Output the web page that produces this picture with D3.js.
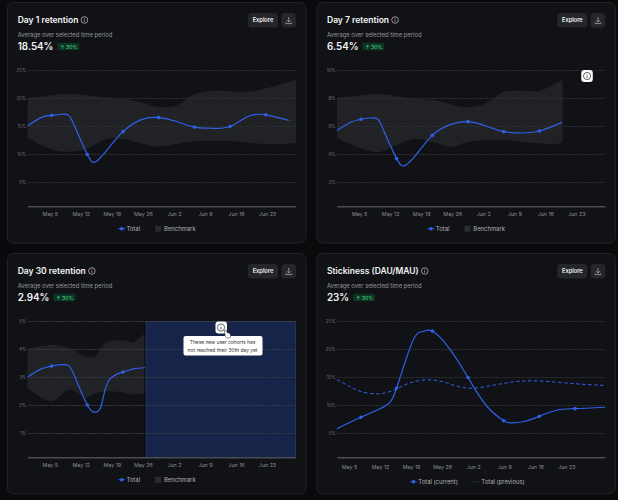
<!DOCTYPE html>
<html>
<head>
<meta charset="utf-8">
<script src="https://cdn.jsdelivr.net/npm/d3@7"></script>
<style>
html, body { margin: 0; padding: 0; background: #0a0a0c; overflow: hidden; }
text { font-family: Inter, "Noto Sans", sans-serif; }
</style>
</head>
<body>
<svg id="chart" width="618" height="500"></svg>
<script>
// tick labels
const weekLabels = ["May 5", "May 12", "May 19", "May 26", "Jun 2", "Jun 9", "Jun 16", "Jun 23"];

// x values are in weeks, 0 = first marker
const day1Weeks = [-0.67, -0.3, 0, 0.25, 0.47, 0.65, 1, 1.23, 1.55, 2, 2.5, 3, 3.5, 4, 4.5, 5, 5.5, 6, 6.64];
const day1Total = [15, 16.5, 16.9, 17.1, 16.95, 14.9, 9.9, 8.6, 10.7, 14, 16.1, 16.5, 15.8, 14.8, 14.6, 14.9, 16.7, 17, 16];
const day1BandWeeks = [-0.67, 0, 0.5, 1, 1.5, 2, 2.5, 3, 3.5, 4, 4.5, 5, 5.5, 6, 6.5, 6.85];
const day1Upper = [20, 20.5, 20.7, 20.5, 20.1, 19.8, 19.3, 18.4, 18.7, 20.7, 21.3, 21.2, 21.1, 21.7, 22.6, 23.2];
const day1Lower = [12.9, 10.8, 10.4, 11, 12.6, 12.7, 11.9, 11.3, 11.8, 12.3, 12.3, 12.3, 12, 11.8, 11.8, 12];

const day7Weeks = [-0.67, -0.3, 0, 0.25, 0.47, 0.65, 1, 1.23, 1.55, 2, 2.5, 3, 3.5, 4, 4.5, 5, 5.63];
const day7Total = [5.67, 6.25, 6.48, 6.57, 6.5, 5.6, 3.67, 3.17, 3.95, 5.33, 6.1, 6.31, 6, 5.6, 5.5, 5.64, 6.26];
const day7BandWeeks = [-0.67, 0, 0.5, 1, 1.5, 2, 2.5, 3, 3.5, 4, 4.5, 5, 5.33, 5.65];
const day7Upper = [8, 8.2, 8.3, 8.14, 7.95, 7.86, 7.57, 7.33, 7.62, 8.43, 8.52, 8.5, 8.88, 9.29];
const day7Lower = [5.14, 4.4, 4.14, 4.64, 5.07, 4.88, 4.52, 4.88, 5, 5, 4.88, 4.76, 4.71, 4.81];

const day30Weeks = [-0.67, -0.3, 0, 0.25, 0.47, 0.65, 1, 1.23, 1.4, 1.59, 2, 2.3, 2.62];
const day30Total = [3, 3.28, 3.39, 3.44, 3.41, 3.02, 2, 1.74, 2.01, 2.85, 3.18, 3.29, 3.33];
const day30BandWeeks = [-0.67, 0, 0.5, 1, 1.2, 1.5, 2, 2.3, 2.65];
const day30Upper = [4, 4.15, 4.04, 3.71, 3.71, 4.21, 4.31, 4.24, 4.63];
const day30Lower = [2.61, 2.13, 2.55, 2.27, 2.4, 2.49, 2.45, 2.37, 2.4];

const stickyWeeks = [-0.67, 0, 0.67, 1, 1.45, 1.73, 2, 2.5, 3, 3.5, 4, 4.25, 4.6, 5, 5.5, 6, 6.84];
const stickyTotal = [5.77, 7.8, 9.76, 13.04, 21.37, 23.1, 23.2, 19.9, 14.9, 10, 7.2, 6.8, 7.1, 8, 9.1, 9.35, 9.6];
const stickyPrevWeeks = [-0.67, -0.31, 0, 0.53, 1, 1.4, 1.9, 2.43, 3.08, 4.03, 4.95, 6, 6.84];
const stickyPrev = [14.5, 13.3, 12.4, 12, 12.9, 14, 14.5, 13.9, 13, 13.9, 14.3, 13.8, 13.5];

const panels = [
    { x: 0, y: 0, title: "Day 1 retention", value: "18.54%", yMax: 25, yTicks: [5, 10, 15, 20, 25],
      weeks: day1Weeks, total: day1Total, bandWeeks: day1BandWeeks, upper: day1Upper, lower: day1Lower },
    { x: 309.3, y: 0, title: "Day 7 retention", value: "6.54%", yMax: 10, yTicks: [2, 4, 6, 8, 10],
      weeks: day7Weeks, total: day7Total, bandWeeks: day7BandWeeks, upper: day7Upper, lower: day7Lower },
    { x: 0, y: 251, title: "Day 30 retention", value: "2.94%", yMax: 5, yTicks: [1, 2, 3, 4, 5],
      weeks: day30Weeks, total: day30Total, bandWeeks: day30BandWeeks, upper: day30Upper, lower: day30Lower },
    { x: 309.3, y: 251, title: "Stickiness (DAU/MAU)", value: "23%", yMax: 25, yTicks: [5, 10, 15, 20, 25],
      weeks: stickyWeeks, total: stickyTotal, prevWeeks: stickyPrevWeeks, prev: stickyPrev }
];

const BLUE = "#2f60ea";
const svg = d3.select("#chart");

const xWeek = d3.scaleLinear().domain([0, 6]).range([51.6, 265.8]);
const bandCurve = d3.curveCatmullRom.alpha(0.5);

function infoIcon(g, cx, cy, r, color) {
    g.append("circle").attr("cx", cx).attr("cy", cy).attr("r", r)
        .attr("fill", "none").attr("stroke", color).attr("stroke-width", 0.7);
    g.append("line").attr("x1", cx).attr("x2", cx).attr("y1", cy - r * 0.1).attr("y2", cy + r * 0.5)
        .attr("stroke", color).attr("stroke-width", 0.8);
    g.append("circle").attr("cx", cx).attr("cy", cy - r * 0.45).attr("r", 0.45).attr("fill", color);
}

function drawPanel(p, i) {
    const g = svg.append("g").attr("transform", `translate(${p.x},${p.y})`);
    const sticky = !!p.prev;

    g.append("rect").attr("x", 7.5).attr("y", 2.5).attr("width", 298.5).attr("height", 240.5).attr("rx", 6)
        .attr("fill", "#111216").attr("stroke", "#222327").attr("stroke-width", 1);

    // header
    const title = g.append("text").attr("x", 17.7).attr("y", 23.2).text(p.title)
        .attr("fill", "#f5f5f6").attr("font-size", 8.5).attr("font-weight", 600);
    const titleW = title.node().getComputedTextLength();
    infoIcon(g, 17.7 + titleW + 6, 20, 3.3, "#c9cacd");

    g.append("text").attr("x", 17.7).attr("y", 37.2).text("Average over selected time period")
        .attr("fill", "#96979c").attr("font-size", 5.85);
    const val = g.append("text").attr("x", 17.7).attr("y", 50).text(p.value)
        .attr("fill", "#f5f5f6").attr("font-size", 9.8).attr("font-weight", 600);
    const valW = val.node().getComputedTextLength();
    const badgeX = 17.7 + valW + 3.8;
    g.append("rect").attr("x", badgeX).attr("y", 42.8).attr("width", 22).attr("height", 7.5).attr("rx", 1)
        .attr("fill", "#0b3522");
    g.append("text").attr("x", badgeX + 3).attr("y", 48.6).text("↑ 30%")
        .attr("fill", "#56d68e").attr("font-size", 5.2);

    // buttons
    g.append("rect").attr("x", 248).attr("y", 13).attr("width", 30).attr("height", 14.5).attr("rx", 3.5).attr("fill", "#25262b");
    g.append("text").attr("x", 263).attr("y", 22.2).attr("text-anchor", "middle").text("Explore")
        .attr("fill", "#f0f0f2").attr("font-size", 5.7).attr("font-weight", 600);
    g.append("rect").attr("x", 281.3).attr("y", 13).attr("width", 14.7).attr("height", 14.5).attr("rx", 3.5).attr("fill", "#25262b");
    g.append("path").attr("d", "M288.7 17v5M286.8 20.2l1.9 1.9 1.9-1.9M285.8 22.4v1.2h5.8v-1.2")
        .attr("fill", "none").attr("stroke", "#b5b6ba").attr("stroke-width", 0.7);

    const y = d3.scaleLinear().domain([0, p.yMax]).range([210, 70]);
    const xLabels = d3.scalePoint().domain(weekLabels).range(sticky ? [39.7, 257] : [49.8, 267]);

    // benchmark band
    if (p.upper) {
        const rows = p.bandWeeks.map((w, k) => ({ w, hi: p.upper[k], lo: p.lower[k] }));
        g.append("path").datum(rows)
            .attr("d", d3.area().x(d => xWeek(d.w)).y0(d => y(d.lo)).y1(d => y(d.hi)).curve(bandCurve))
            .attr("fill", "#212226");
    }

    // not reached yet region, day 30 only
    if (i === 2) {
        g.append("rect").attr("x", 144.5).attr("y", 70).attr("width", 1.5).attr("height", 137).attr("fill", "#050506");
        g.append("rect").attr("x", 146).attr("y", 70.5).attr("width", 149.7).attr("height", 136)
            .attr("fill", "#16244a").attr("stroke", "#2c3d6c").attr("stroke-width", 0.8);
    }

    // grid + y labels
    const yAxis = g.append("g").attr("transform", "translate(28,0)")
        .call(d3.axisLeft(y).tickValues(p.yTicks).tickFormat(d => d + "%").tickSize(-268).tickPadding(1.8));
    yAxis.select(".domain").remove();
    yAxis.selectAll("line").attr("stroke", i === 2 ? "#3a3c44" : "#303135").attr("stroke-dasharray", "1.5 0.8");
    yAxis.selectAll("text").attr("fill", "#77787d").attr("font-size", 4.4).attr("font-family", "Inter");

    // x axis
    const xAxis = g.append("g").attr("transform", "translate(0,206.5)")
        .call(d3.axisBottom(xLabels).tickSize(0).tickPadding(sticky ? 7.3 : 5.8));
    xAxis.select(".domain").remove();
    xAxis.selectAll("text").attr("fill", "#8f9095").attr("font-size", 5.3).attr("font-family", "Inter");
    g.append("line").attr("x1", 28).attr("x2", 296).attr("y1", 206.7).attr("y2", 206.7)
        .attr("stroke", "#4c4d52").attr("stroke-width", 1.6);

    // previous period
    if (sticky) {
        g.append("path").datum(p.prevWeeks.map((w, k) => ({ w, v: p.prev[k] })))
            .attr("d", d3.line().x(d => xWeek(d.w)).y(d => y(d.v)).curve(d3.curveNatural))
            .attr("fill", "none").attr("stroke", BLUE).attr("stroke-width", 1).attr("stroke-dasharray", "3.5 2.5");
    }

    // total
    const rows = p.weeks.map((w, k) => ({ w, v: p.total[k] }));
    g.append("path").datum(rows)
        .attr("d", d3.line().x(d => xWeek(d.w)).y(d => y(d.v)).curve(d3.curveNatural))
        .attr("fill", "none").attr("stroke", BLUE).attr("stroke-width", 1.2);
    g.selectAll(".pt").data(rows.filter(d => Number.isInteger(d.w))).enter().append("circle")
        .attr("class", "pt")
        .attr("cx", d => xWeek(d.w)).attr("cy", d => y(d.v)).attr("r", 1.8)
        .attr("fill", BLUE);

    // legend
    const ly = sticky ? 230.8 : 228.7;
    const lineX = sticky ? 101 : 118.5;
    g.append("line").attr("x1", lineX).attr("x2", lineX + 6.5).attr("y1", ly).attr("y2", ly).attr("stroke", BLUE).attr("stroke-width", 1);
    g.append("circle").attr("cx", lineX + 3.2).attr("cy", ly).attr("r", 1.8).attr("fill", BLUE);
    g.append("text").attr("x", lineX + 8).attr("y", ly + 2.2).text(sticky ? "Total (current)" : "Total")
        .attr("fill", "#b0b1b5").attr("font-size", 5.9);
    if (sticky) {
        g.append("line").attr("x1", 163).attr("x2", 170).attr("y1", ly).attr("y2", ly).attr("stroke", "#1d2a52").attr("stroke-width", 1);
        g.append("text").attr("x", 172).attr("y", ly + 2.2).text("Total (previous)")
            .attr("fill", "#b0b1b5").attr("font-size", 5.9);
    } else {
        g.append("rect").attr("x", 155.2).attr("y", ly - 3).attr("width", 6).attr("height", 6).attr("rx", 0.6).attr("fill", "#2a2b30");
        g.append("text").attr("x", 164).attr("y", ly + 2.2).text("Benchmark")
            .attr("fill", "#b0b1b5").attr("font-size", 5.9);
    }

    // little floating icons
    if (i === 1) {
        g.append("rect").attr("x", 272).attr("y", 70).attr("width", 11.5).attr("height", 12).attr("rx", 3).attr("fill", "#ffffff");
        infoIcon(g, 277.8, 76, 3.6, "#25262b");
    }
    if (i === 2) {
        g.append("rect").attr("x", 215.5).attr("y", 70.5).attr("width", 11.5).attr("height", 12).attr("rx", 3).attr("fill", "#ffffff");
        infoIcon(g, 221, 76.5, 3.6, "#25262b");
        g.append("rect").attr("x", 183.5).attr("y", 85).attr("width", 79).attr("height", 19.5).attr("rx", 2).attr("fill", "#ffffff");
        g.append("text").attr("x", 222.5).attr("y", 93).attr("text-anchor", "middle").text("These new user cohorts has")
            .attr("fill", "#303136").attr("font-size", 4.9);
        g.append("text").attr("x", 222.5).attr("y", 100.7).attr("text-anchor", "middle").text("not reached their 30th day yet")
            .attr("fill", "#303136").attr("font-size", 4.9);
        // hand cursor
        g.append("path").attr("d", "M224.5 79.5l1.5-.5 1 2.5 2 .5 1.5 1.5v2.5l-1 1h-2.5l-2-2z")
            .attr("fill", "#ffffff").attr("stroke", "#111216").attr("stroke-width", 0.5);
    }
}

panels.forEach(drawPanel);
</script>
</body>
</html>
